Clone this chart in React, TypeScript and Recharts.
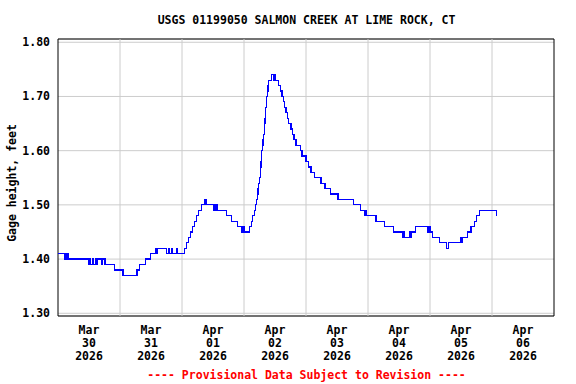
import React from 'react';
import { LineChart, Line, XAxis, YAxis, CartesianGrid, ReferenceLine, ReferenceArea } from 'recharts';

// hours since Mar 30 2026 00:00, at each change of gage height
const hours = [
  0, 2.63, 3.02, 3.41, 3.68, 3.99, 11.73, 12.31, 12.62, 13.47, 13.78, 14.44, 14.83, 15.21,
  16.76, 17.03, 17.92, 18.19, 18.43, 21.91, 24.89, 25.16, 25.39, 30.58, 31.47, 33.79, 35.73,
  37.94, 38.25, 38.63, 42.04, 42.7, 43.09, 43.98, 44.36, 45.79, 46.18, 49.01, 49.67, 50.44,
  51.21, 51.99, 52.76, 53.54, 54.31, 55.47, 56.94, 57.52, 60.12, 60.39, 60.78, 61.08, 61.55,
  65.27, 67.2, 69.52, 71.23, 71.73, 72.12, 74.05, 74.83, 75.41, 75.99, 76.49, 76.84, 77.15,
  77.42, 77.73, 78.04, 78.31, 78.58, 78.82, 79.09, 79.36, 79.59, 79.86, 80.13, 80.44, 80.75,
  81.02, 81.29, 81.6, 82.69, 83.54, 83.85, 84.31, 85.4, 86.17, 86.71, 87.22, 87.72, 88.26,
  88.76, 89.27, 90.2, 90.81, 91.36, 92.13, 93.8, 94.45, 96.0, 96.89, 97.94, 99.33, 101.81,
  103.36, 105.41, 108.24, 108.51, 108.7, 114.31, 117.02, 118.84, 119.15, 119.54, 123.1,
  126.31, 129.91, 133.47, 133.86, 134.25, 135.99, 136.38, 136.76, 138.5, 143.07, 143.34,
  143.62, 143.85, 144.2, 145.01, 147.8, 150.43, 151.2, 156.0, 156.24, 156.51, 158.56,
  159.88, 161.15, 162.04, 163.09, 169.78,
];

const gage = [
  1.41, 1.40, 1.41, 1.40, 1.41, 1.40, 1.39, 1.40, 1.39, 1.40, 1.39, 1.40, 1.39, 1.40,
  1.39, 1.40, 1.39, 1.40, 1.39, 1.38, 1.37, 1.38, 1.37, 1.38, 1.39, 1.40, 1.41,
  1.42, 1.41, 1.42, 1.41, 1.42, 1.41, 1.42, 1.41, 1.42, 1.41, 1.42, 1.43, 1.44,
  1.45, 1.46, 1.47, 1.48, 1.49, 1.50, 1.51, 1.50, 1.49, 1.50, 1.49, 1.50, 1.49,
  1.48, 1.47, 1.46, 1.45, 1.46, 1.45, 1.46, 1.47, 1.48, 1.49, 1.50, 1.51, 1.52,
  1.53, 1.54, 1.55, 1.57, 1.58, 1.60, 1.61, 1.62, 1.63, 1.65, 1.66, 1.68, 1.70,
  1.71, 1.72, 1.73, 1.74, 1.73, 1.74, 1.73, 1.72, 1.71, 1.70, 1.69, 1.68, 1.67,
  1.66, 1.65, 1.64, 1.63, 1.62, 1.61, 1.60, 1.59, 1.58, 1.57, 1.56, 1.55, 1.54,
  1.53, 1.52, 1.51, 1.52, 1.51, 1.50, 1.49, 1.48, 1.49, 1.48, 1.47,
  1.46, 1.45, 1.44, 1.45, 1.44, 1.45, 1.44, 1.45, 1.46, 1.45, 1.46,
  1.45, 1.46, 1.45, 1.44, 1.43, 1.42, 1.43, 1.44, 1.43, 1.44, 1.45,
  1.46, 1.47, 1.48, 1.49, 1.48,
];

const yTicks = [1.3, 1.4, 1.5, 1.6, 1.7, 1.8];
const dayLines = [24, 48, 72, 96, 120, 144, 168];
const labelHours = [12, 36, 60, 84, 108, 132, 156, 180];
const labelMonths = ['Mar', 'Mar', 'Apr', 'Apr', 'Apr', 'Apr', 'Apr', 'Apr'];
const labelDays = ['30', '31', '01', '02', '03', '04', '05', '06'];
const labelYear = '2026';

const data = hours.map((h, i) => ({ h, v: gage[i] }));

const FONT = '"DejaVu Sans Mono", monospace';
const Y_MIN = 1.295;
const Y_MAX = 1.806;

const DayTick = (props: any) => {
  const { x, y, payload } = props;
  const i = labelHours.indexOf(payload.value);
  return (
    <text x={x} y={y} textAnchor="middle" fontFamily={FONT} fontSize={11.5} fontWeight="bold" fill="#000">
      <tspan x={x} dy={18}>{labelMonths[i]}</tspan>
      <tspan x={x} dy={13}>{labelDays[i]}</tspan>
      <tspan x={x} dy={13}>{labelYear}</tspan>
    </text>
  );
};

const GageTick = (props: any) => {
  const { x, y, payload } = props;
  return (
    <text x={x} y={y + 4} textAnchor="end" fontFamily={FONT} fontSize={11.5} fontWeight="bold" fill="#000">
      {payload.value.toFixed(2)}
    </text>
  );
};

export default function App() {
  return (
    <div style={{ position: 'absolute', left: 0, top: 0, width: 576, height: 384, background: '#fff' }}>
      <LineChart width={576} height={384} data={data} margin={{ top: 39, right: 22, bottom: 0, left: 0 }}>
        <CartesianGrid vertical={false} stroke="#cccccc" />
        {dayLines.map((d) => (
          <ReferenceLine key={d} x={d} stroke="#cccccc" />
        ))}
        <XAxis
          dataKey="h"
          type="number"
          domain={[0, 192]}
          ticks={labelHours}
          interval={0}
          height={68}
          tickSize={0}
          tickMargin={0}
          tickLine={false}
          axisLine={false}
          tick={<DayTick />}
        />
        <YAxis
          type="number"
          domain={[Y_MIN, Y_MAX]}
          allowDataOverflow
          ticks={yTicks}
          interval={0}
          width={58}
          tickSize={0}
          tickMargin={8}
          tickLine={false}
          axisLine={false}
          tick={<GageTick />}
        />
        <Line
          type="stepAfter"
          dataKey="v"
          stroke="#0000ff"
          strokeWidth={1.2}
          shapeRendering="crispEdges"
          dot={false}
          isAnimationActive={false}
        />
        <ReferenceArea x1={0} x2={192} y1={Y_MIN} y2={Y_MAX} fill="none" stroke="#000" strokeWidth={1} />
      </LineChart>
      <svg width={576} height={384} style={{ position: 'absolute', left: 0, top: 0, pointerEvents: 'none' }}>
        <text x={306.5} y={24} textAnchor="middle" fontFamily={FONT} fontSize={11.5} fontWeight="bold" fill="#000">
          USGS 01199050 SALMON CREEK AT LIME ROCK, CT
        </text>
        <text
          x={16}
          y={183}
          transform="rotate(-90 16 183)"
          textAnchor="middle"
          fontFamily={FONT}
          fontSize={11.5}
          fontWeight="bold"
          fill="#000"
        >
          Gage height, feet
        </text>
        <text x={306.5} y={379} textAnchor="middle" fontFamily={FONT} fontSize={11.5} fontWeight="bold" fill="#ff0000">
          ---- Provisional Data Subject to Revision ----
        </text>
      </svg>
    </div>
  );
}
